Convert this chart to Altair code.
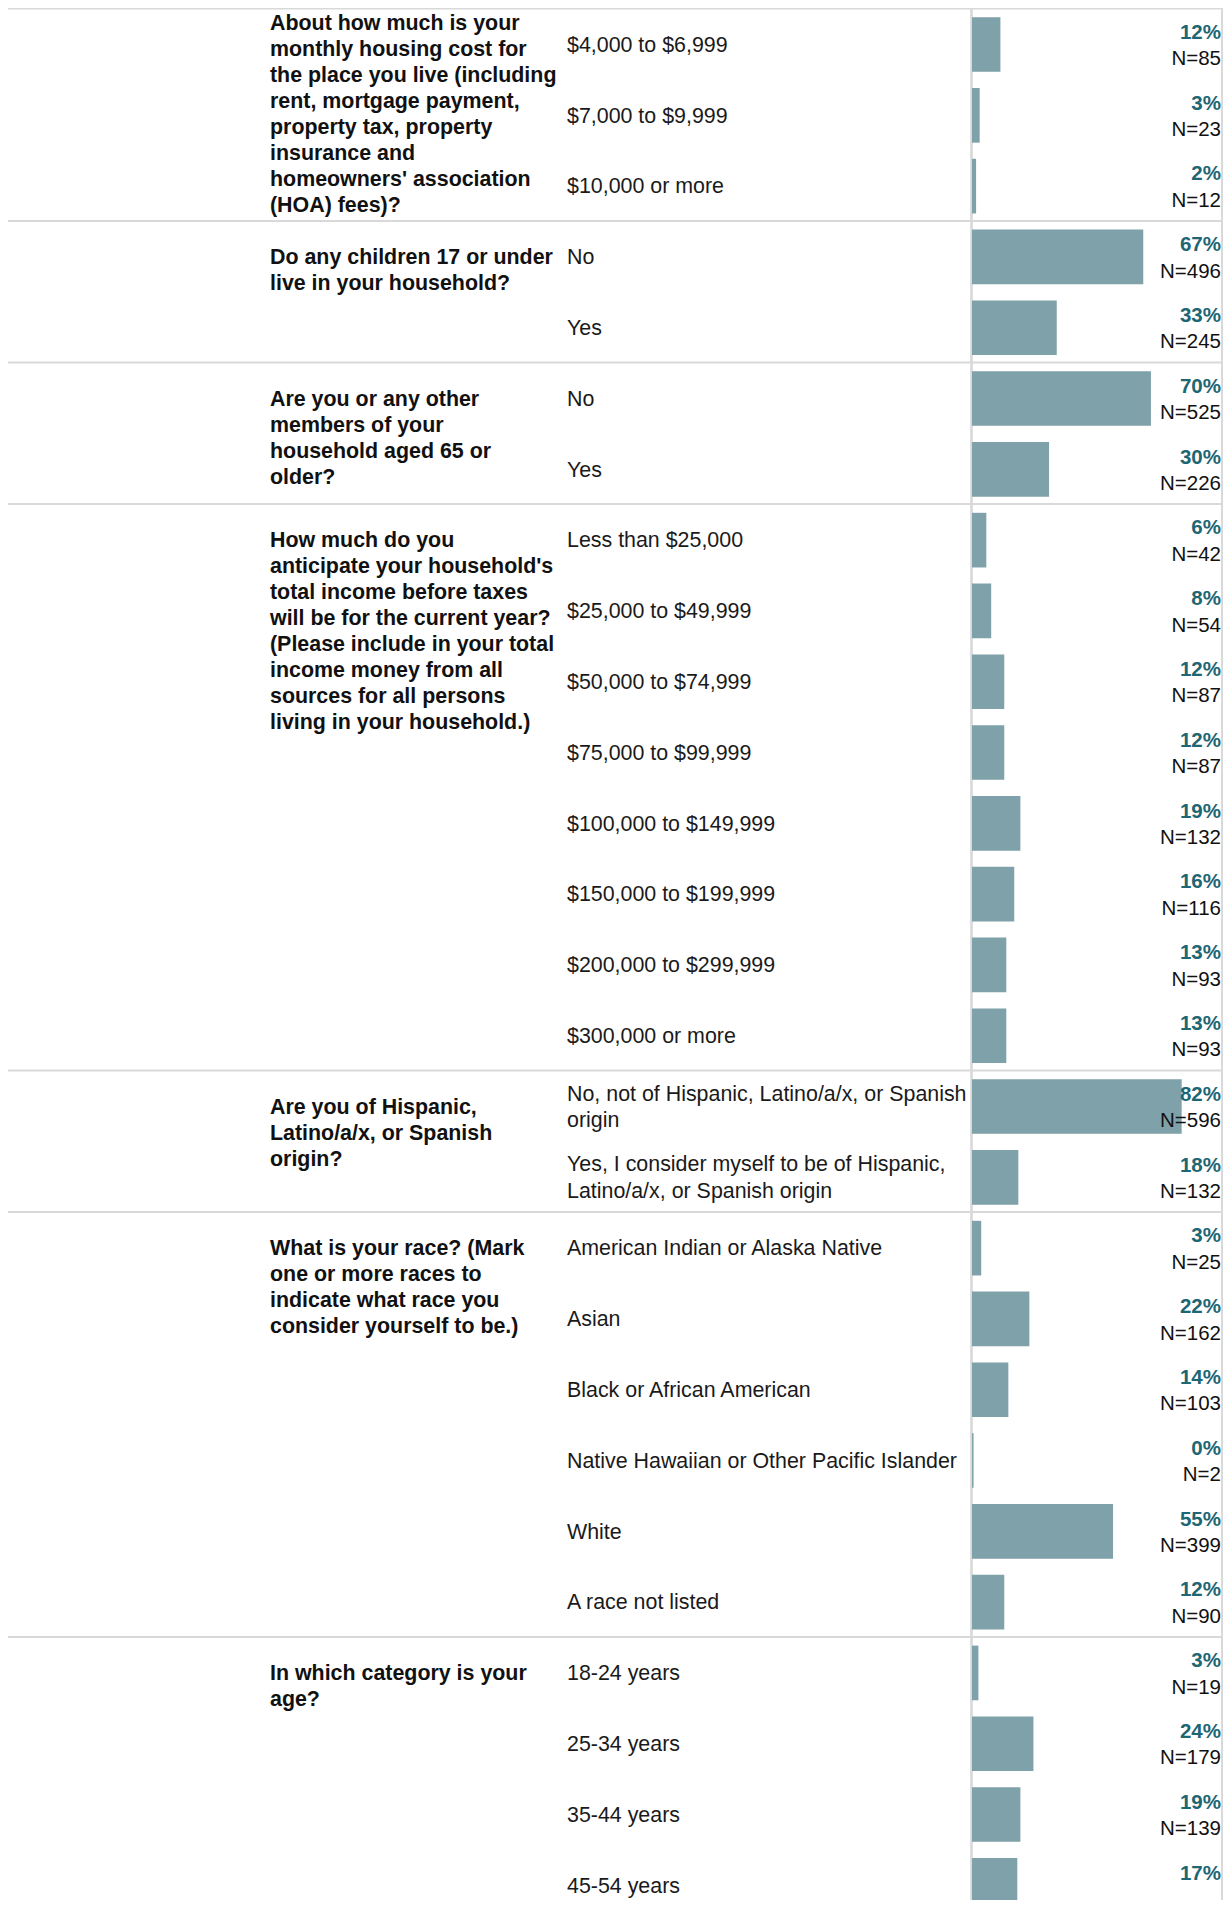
import altair as alt
import pandas as pd

# ---------------- data ----------------
questions = [
    "About how much is your\nmonthly housing cost for\nthe place you live (including\nrent, mortgage payment,\nproperty tax, property\ninsurance and\nhomeowners' association\n(HOA) fees)?",
    "Do any children 17 or under\nlive in your household?",
    "Are you or any other\nmembers of your\nhousehold aged 65 or\nolder?",
    "How much do you\nanticipate your household's\ntotal income before taxes\nwill be for the current year?\n(Please include in your total\nincome money from all\nsources for all persons\nliving in your household.)",
    "Are you of Hispanic,\nLatino/a/x, or Spanish\norigin?",
    "What is your race? (Mark\none or more races to\nindicate what race you\nconsider yourself to be.)",
    "In which category is your\nage?",
]

answers = [
    ["$4,000 to $6,999", "$7,000 to $9,999", "$10,000 or more"],
    ["No", "Yes"],
    ["No", "Yes"],
    ["Less than $25,000", "$25,000 to $49,999", "$50,000 to $74,999",
     "$75,000 to $99,999", "$100,000 to $149,999", "$150,000 to $199,999",
     "$200,000 to $299,999", "$300,000 or more"],
    ["No, not of Hispanic, Latino/a/x, or Spanish\norigin",
     "Yes, I consider myself to be of Hispanic,\nLatino/a/x, or Spanish origin"],
    ["American Indian or Alaska Native", "Asian", "Black or African American",
     "Native Hawaiian or Other Pacific Islander", "White", "A race not listed"],
    ["18-24 years", "25-34 years", "35-44 years", "45-54 years"],
]

# bar lengths (percent of respondents)
bar_pct = [
    [11.1, 3.0, 1.6],
    [66.9, 33.1],
    [69.9, 30.1],
    [5.6, 7.5, 12.6, 12.6, 18.9, 16.5, 13.4, 13.4],
    [81.9, 18.1],
    [3.6, 22.4, 14.2, 0.6, 55.1, 12.6],
    [2.5, 24.0, 18.9, 17.7],
]

# printed percentage labels
pct_labels = [
    [12, 3, 2],
    [67, 33],
    [70, 30],
    [6, 8, 12, 12, 19, 16, 13, 13],
    [82, 18],
    [3, 22, 14, 0, 55, 12],
    [3, 24, 19, 17],
]

# printed respondent counts (last one is cut off in the picture)
n_counts = [
    [85, 23, 12],
    [496, 245],
    [525, 226],
    [42, 54, 87, 87, 132, 116, 93, 93],
    [596, 132],
    [25, 162, 103, 2, 399, 90],
    [19, 179, 139, None],
]

# ---------------- tables ----------------
rows, qrows, lines = [], [], []
r = 0
for s, q in enumerate(questions):
    qrows.append({"q": q, "start": r, "n": len(answers[s]), "idx": s,
                  "nl": q.count("\n") + 1})
    lines.append({"line": r})
    for j, a in enumerate(answers[s]):
        n = n_counts[s][j]
        rows.append({
            "row": r,
            "answer": a,
            "nl": a.count("\n") + 1,
            "bar": bar_pct[s][j],
            "pct_text": f"{pct_labels[s][j]}%",
            "n_text": "" if n is None else f"N={n}",
        })
        r += 1
total_rows = r

df = pd.DataFrame(rows)
qdf = pd.DataFrame(qrows)
ldf = pd.DataFrame(lines)

# ---------------- layout / style ----------------
ROW_PX = 70.8
W = 1215
H = 1892
FONT = "Liberation Sans"
BAR_COLOR = "#7fa1a9"
PCT_COLOR = "#1d6673"
LINE_COLOR = "#d9d9d9"
TXT_SIZE = 21.4
LAB_SIZE = 20.5
Q_LH = 26.0
A_LH = 26.5
LABEL_X = 1213

Y0 = 0.5
yscale = alt.Scale(domain=[0, total_rows], range=[Y0, Y0 + total_rows * ROW_PX],
                   zero=False, nice=False)
xscale = alt.Scale(domain=[0, 100], range=[964, 1220], zero=False, nice=False)

base = alt.Chart(df)

bars = base.transform_calculate(
    zero="0", b0="datum.row + 0.123", b1="datum.row + 0.895"
).mark_rect(color=BAR_COLOR, clip=True).encode(
    x=alt.X("zero:Q", scale=xscale, axis=None),
    x2="bar:Q",
    y=alt.Y("b0:Q", scale=yscale, axis=None),
    y2="b1:Q",
)

answer_text = base.transform_calculate(
    ty=f"datum.row + 0.5275 - (datum.nl - 1) * {A_LH / 2 / ROW_PX}"
).mark_text(
    align="left", baseline="middle", lineBreak="\n", lineHeight=A_LH,
    font=FONT, fontSize=TXT_SIZE, color="#1a1a1a", clip=True
).encode(
    x=alt.value(559),
    y=alt.Y("ty:Q", scale=yscale, axis=None),
    text="answer:N",
)

pct_text = base.transform_calculate(
    ty="datum.row + 0.428"
).mark_text(
    align="right", baseline="alphabetic", font=FONT, fontSize=LAB_SIZE,
    fontWeight="bold", color=PCT_COLOR, clip=True
).encode(
    x=alt.value(LABEL_X),
    y=alt.Y("ty:Q", scale=yscale, axis=None),
    text="pct_text:N",
)

n_text = base.transform_filter("datum.n_text != ''").transform_calculate(
    ty="datum.row + 0.801"
).mark_text(
    align="right", baseline="alphabetic", font=FONT, fontSize=LAB_SIZE,
    color="#111111", clip=True
).encode(
    x=alt.value(LABEL_X),
    y=alt.Y("ty:Q", scale=yscale, axis=None),
    text="n_text:N",
)

qbase = alt.Chart(qdf)

# first question is pinned to the visible part of its block (centred)
q_first = qbase.transform_filter("datum.idx == 0").transform_calculate(
    ty=f"datum.start + datum.n / 2 - (datum.nl - 1) * {Q_LH / 2 / ROW_PX}"
).mark_text(
    align="left", baseline="middle", lineBreak="\n", lineHeight=Q_LH,
    font=FONT, fontSize=TXT_SIZE, fontWeight="bold", color="#111111", clip=True
).encode(
    x=alt.value(262),
    y=alt.Y("ty:Q", scale=yscale, axis=None),
    text="q:N",
)

q_rest = qbase.transform_filter("datum.idx > 0").transform_calculate(
    ty="datum.start + 0.612"
).mark_text(
    align="left", baseline="alphabetic", lineBreak="\n", lineHeight=Q_LH,
    font=FONT, fontSize=TXT_SIZE, fontWeight="bold", color="#111111", clip=True
).encode(
    x=alt.value(262),
    y=alt.Y("ty:Q", scale=yscale, axis=None),
    text="q:N",
)

hlines = alt.Chart(ldf).mark_rule(color=LINE_COLOR, strokeWidth=2).encode(
    x=alt.value(0),
    x2=alt.value(W),
    y=alt.Y("line:Q", scale=yscale, axis=None),
)

vline = alt.Chart(ldf).mark_rule(color=LINE_COLOR, strokeWidth=1.5).encode(
    x=alt.value(963.5), y=alt.value(0), y2=alt.value(H)
)
vline_right = alt.Chart(ldf).mark_rule(color=LINE_COLOR, strokeWidth=1.5).encode(
    x=alt.value(W - 0.75), y=alt.value(0), y2=alt.value(H)
)

chart = alt.layer(
    hlines, vline, vline_right, bars, q_first, q_rest, answer_text, pct_text, n_text
).properties(
    width=W, height=H, padding=0,
    autosize=alt.AutoSizeParams(type="none"),
).configure_view(stroke=None)

chart.save("out.html", embed_options={"renderer": "svg", "actions": False})
